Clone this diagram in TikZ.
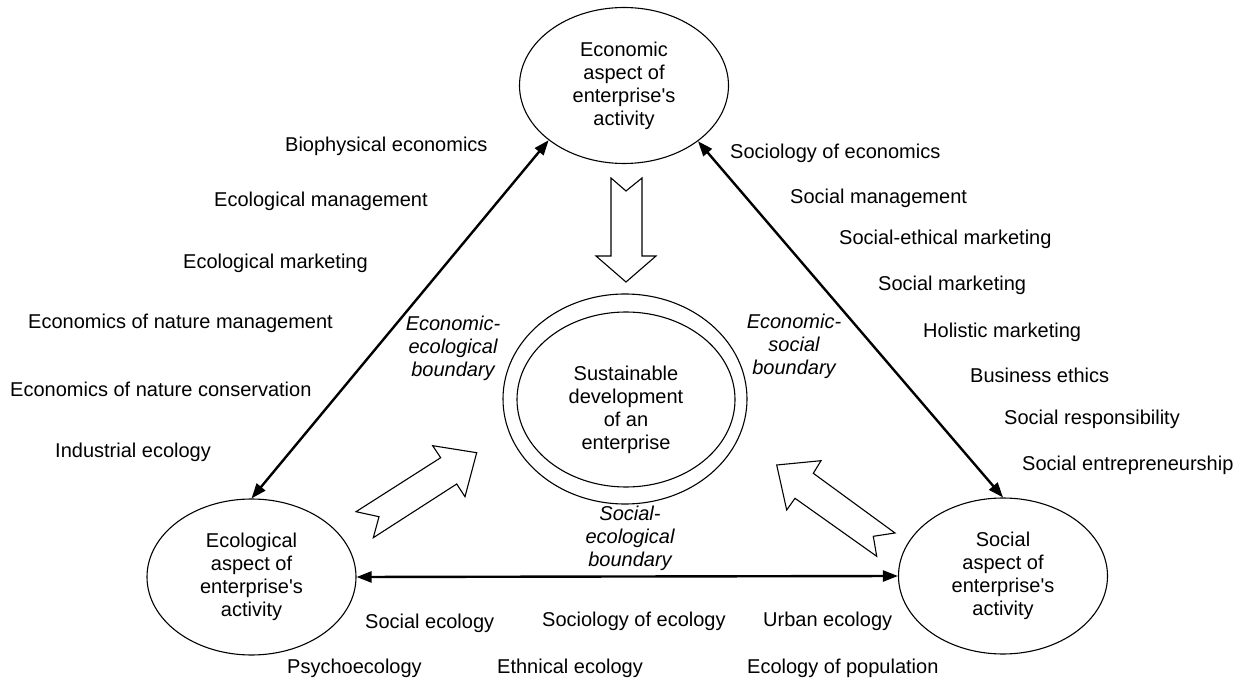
\documentclass[tikz,border=0pt]{standalone}
\usepackage{fontspec}
\setmainfont{Liberation Sans}
\usetikzlibrary{shapes.geometric,arrows.meta}
\tikzset{
  txt/.style={font=\fontsize{20}{23}\selectfont, inner sep=0pt},
  lst/.style={txt, anchor=west},
  bnd/.style={txt, align=center, font=\fontsize{20}{23}\selectfont\itshape},
  aspect/.style={txt, draw, ellipse, line width=1.1pt, align=center, minimum width=209pt, minimum height=156pt},
  conn/.style={line width=2.4pt, {Triangle[length=15pt,width=11pt]}-{Triangle[length=15pt,width=11pt]}},
  blk/.style={draw, line width=1.1pt, fill=white, line join=miter}
}
\begin{document}
\begin{tikzpicture}[x=1pt,y=-1pt]
\fill[white] (0,0) rectangle (1242,684);
\useasboundingbox (0,0) rectangle (1242,684);

% aspect ellipses
\node[aspect] (eco) at (624,85.5) {Economic\\aspect of\\enterprise\textquotesingle s\\activity};
\node[aspect] (ecol) at (251.5,577) {Ecological\\aspect of\\enterprise\textquotesingle s\\activity};
\node[aspect] (soc) at (1003,576) {Social\\aspect of\\enterprise\textquotesingle s\\activity};

% central double ellipse
\node[draw, ellipse, line width=1.1pt, minimum width=244pt, minimum height=210pt, inner sep=0pt] (sdout) at (625,399) {};
\node[draw, ellipse, line width=1.1pt, minimum width=218pt, minimum height=175pt, inner sep=0pt] (sdin) at (626,399.5) {};
\node[txt, align=center] (sdtext) at (626,410) {Sustainable\\development\\of an\\enterprise};

% connectors
\draw[conn] (eco.216.6) -- (ecol.north);
\draw[conn] (eco.323.4) -- (soc.north);
\draw[conn] (ecol.east) -- (soc.west);

% block arrows
\draw[blk] (611,178) -- (626,191) -- (642,178) -- (642,256) -- (656,256) -- (626,282) -- (596,256) -- (611,256) -- cycle;
\draw[blk] (476.7,452.7) -- (432.7,445.7) -- (440.7,457.7) -- (356,511.7) -- (379,516.7) -- (373.3,537.7) -- (456.7,484) -- (465,496.7) -- cycle;
\draw[blk] (776.7,465) -- (821,460.7) -- (813.3,473.3) -- (895,533) -- (873.3,536.3) -- (876.7,556.3) -- (795,498.3) -- (786.7,510) -- cycle;

% boundary labels
\node[bnd] (b1) at (453,348) {Economic-\\ecological\\boundary};
\node[bnd] (b2) at (794,346) {Economic-\\social\\boundary};
\node[bnd] (b3) at (630,538) {Social-\\ecological\\boundary};

% left list
\node[lst] (l1) at (285,146) {Biophysical economics};
\node[lst] (l2) at (214,201) {Ecological management};
\node[lst] (l3) at (183,263) {Ecological marketing};
\node[lst] (l4) at (28,323) {Economics of nature management};
\node[lst] (l5) at (10,389) {Economics of nature conservation};
\node[lst] (l6) at (55,452) {Industrial ecology};

% right list
\node[lst] (r1) at (730,153) {Sociology of economics};
\node[lst] (r2) at (790,198) {Social management};
\node[lst] (r3) at (839,239) {Social-ethical marketing};
\node[lst] (r4) at (878,285) {Social marketing};
\node[lst] (r5) at (923,332) {Holistic marketing};
\node[lst] (r6) at (970,375) {Business ethics};
\node[lst] (r7) at (1004,419) {Social responsibility};
\node[lst] (r8) at (1022,465) {Social entrepreneurship};

% bottom list
\node[lst] (d1) at (365,623) {Social ecology};
\node[lst] (d2) at (542,621) {Sociology of ecology};
\node[lst] (d3) at (763,621) {Urban ecology};
\node[lst] (d4) at (287,668) {Psychoecology};
\node[lst] (d5) at (497,668) {Ethnical ecology};
\node[lst] (d6) at (747,668) {Ecology of population};
\end{tikzpicture}
\end{document}
